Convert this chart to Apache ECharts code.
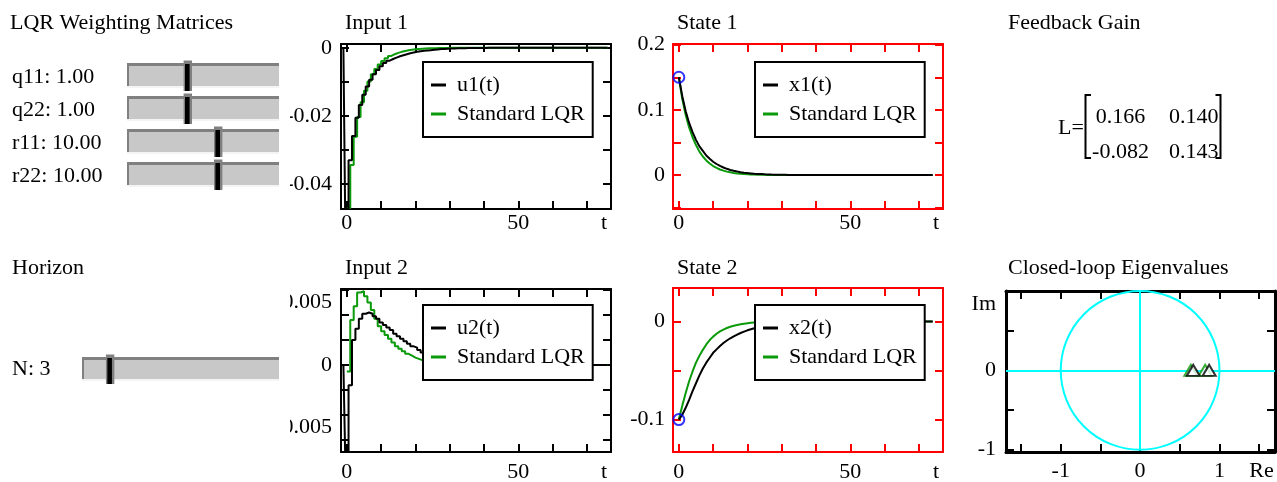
<!DOCTYPE html>
<html>
<head>
<meta charset="utf-8">
<title>LQR vs receding horizon</title>
<script src="https://cdn.jsdelivr.net/npm/echarts@6/dist/echarts.min.js"></script>
<style>
  html, body { margin: 0; padding: 0; background: #fff; }
  #wrap { position: relative; width: 1277px; height: 482px; overflow: hidden; background: #fff; }
  .pane { position: absolute; top: 0; height: 482px; overflow: hidden; }
</style>
</head>
<body>
<div id="wrap">
  <div class="pane" id="ctrl" style="left:0;width:290px"></div>
  <div class="pane" id="inputs" style="left:290px;width:330px"></div>
  <div class="pane" id="states" style="left:620px;width:340px"></div>
  <div class="pane" id="gain" style="left:960px;width:317px"></div>
</div>
<script>
// ---------------- data ----------------
// weighting matrices and horizon shown on the sliders
const weightNames = ['q11', 'q22', 'r11', 'r22'];
const weightValues = [1.00, 1.00, 10.00, 10.00];
const horizonN = 3;

// feedback gain matrix
const gainL = [[0.166, 0.140], [-0.082, 0.143]];

// input value held before the first sample
const uBefore = 0;

// input 1: receding horizon controller (u1) and standard LQR, samples k = 0..76
const u1 = [
  -0.0472, -0.0330, -0.0259, -0.0205, -0.0168, -0.0138, -0.0114, -0.0094, -0.0078, -0.0065,
  -0.0054, -0.0045, -0.0038, -0.0033, -0.0029, -0.0025, -0.0022, -0.0019, -0.0016, -0.0014,
  -0.0012, -0.0010, -0.0009, -0.0008, -0.0007, -0.0006, -0.0005, -0.0004, -0.00035, -0.0003,
  -0.00025, -0.0002, -0.00017, -0.00014, -0.00012, -0.0001, -0.00008, -0.00007, -0.00006, -0.00005,
  -0.00004, -0.00003, -0.00003, -0.00002, -0.00002, -0.00002, -0.00001, -0.00001, -0.00001, -0.00001,
  0, 0, 0, 0, 0, 0, 0, 0, 0, 0,
  0, 0, 0, 0, 0, 0, 0, 0, 0, 0,
  0, 0, 0, 0, 0, 0, 0
];
const u1Lqr = [
  -0.0470, -0.0344, -0.0261, -0.0203, -0.0160, -0.0126, -0.0099, -0.0078, -0.0062, -0.0049,
  -0.0039, -0.0031, -0.0024, -0.0019, -0.0015, -0.0012, -0.00095, -0.00075, -0.0006, -0.00047,
  -0.00037, -0.0003, -0.00023, -0.00018, -0.00014, -0.00011, -0.00009, -0.00007, -0.00005, -0.00004,
  -0.00003, -0.00002, -0.00002, -0.00001, -0.00001, 0, 0, 0, 0, 0,
  0, 0, 0, 0, 0, 0, 0, 0, 0, 0,
  0, 0, 0, 0, 0, 0, 0, 0, 0, 0,
  0, 0, 0, 0, 0, 0, 0, 0, 0, 0,
  0, 0, 0, 0, 0, 0, 0
];

// input 2
const u2 = [
  -0.0069, -0.0016, 0.0020, 0.0029, 0.0037, 0.0041, 0.0042, 0.0041, 0.0039, 0.0037,
  0.0034, 0.0032, 0.0030, 0.0028, 0.0025, 0.0023, 0.0021, 0.0019, 0.0017, 0.0015,
  0.0014, 0.0012, 0.0010, 0.0009, 0.0008, 0.0007, 0.0006, 0.00053, 0.00046, 0.0004,
  0.00035, 0.0003, 0.00026, 0.00023, 0.0002, 0.00017, 0.00015, 0.00013, 0.00011, 0.0001,
  0.00008, 0.00007, 0.00006, 0.00005, 0.00004, 0.00004, 0.00003, 0.00003, 0.00002, 0.00002,
  0.00002, 0.00001, 0.00001, 0.00001, 0, 0, 0, 0, 0, 0,
  0, 0, 0, 0, 0, 0, 0, 0, 0, 0,
  0, 0, 0, 0, 0, 0, 0
];
const u2Lqr = [
  -0.0005, 0.0036, 0.0047, 0.0058, 0.0059, 0.0055, 0.0050, 0.0044, 0.0037, 0.0031,
  0.0027, 0.0024, 0.0021, 0.0018, 0.0015, 0.0013, 0.0011, 0.0009, 0.00075, 0.0006,
  0.0005, 0.0004, 0.00032, 0.00026, 0.0002, 0.00016, 0.00013, 0.0001, 0.00008, 0.00006,
  0.00005, 0.00004, 0.00003, 0.00002, 0.00002, 0.00001, 0.00001, 0, 0, 0,
  0, 0, 0, 0, 0, 0, 0, 0, 0, 0,
  0, 0, 0, 0, 0, 0, 0, 0, 0, 0,
  0, 0, 0, 0, 0, 0, 0, 0, 0, 0,
  0, 0, 0, 0, 0, 0, 0
];

// state 1 and state 2, samples k = 0..74
const x1 = [
  0.150, 0.121, 0.098, 0.080, 0.066, 0.054, 0.044, 0.037, 0.030, 0.025,
  0.0205, 0.017, 0.014, 0.0116, 0.0096, 0.0079, 0.0066, 0.0054, 0.0045, 0.0037,
  0.0031, 0.0026, 0.0021, 0.0018, 0.0015, 0.0012, 0.0010, 0.0008, 0.0007, 0.0006,
  0.0005, 0.0004, 0.0003, 0.00025, 0.0002, 0.00017, 0.00014, 0.00012, 0.0001, 0.00008,
  0.00007, 0.00006, 0.00005, 0.00004, 0.00003, 0.00003, 0.00002, 0.00002, 0.00001, 0.00001,
  0, 0, 0, 0, 0, 0, 0, 0, 0, 0,
  0, 0, 0, 0, 0, 0, 0, 0, 0, 0,
  0, 0, 0, 0, 0
];
const x1Lqr = [
  0.150, 0.117, 0.092, 0.073, 0.058, 0.046, 0.036, 0.0285, 0.0225, 0.0177,
  0.0139, 0.011, 0.0086, 0.0068, 0.0053, 0.0042, 0.0033, 0.0026, 0.0020, 0.0016,
  0.0013, 0.0010, 0.0008, 0.0006, 0.0005, 0.0004, 0.0003, 0.00024, 0.00019, 0.00015,
  0.00012, 0.0001, 0.00008, 0.00006, 0.00005, 0.00004, 0.00003, 0.00002, 0.00002, 0.00001,
  0, 0, 0, 0, 0, 0, 0, 0, 0, 0,
  0, 0, 0, 0, 0, 0, 0, 0, 0, 0,
  0, 0, 0, 0, 0, 0, 0, 0, 0, 0,
  0, 0, 0, 0, 0
];
const x2 = [
  -0.100, -0.095, -0.088, -0.080, -0.071, -0.063, -0.055, -0.048, -0.042, -0.037,
  -0.032, -0.0285, -0.025, -0.022, -0.0195, -0.0172, -0.0152, -0.0134, -0.0118, -0.0104,
  -0.0091, -0.0080, -0.0070, -0.0061, -0.0053, -0.0046, -0.0040, -0.0035, -0.0030, -0.0026,
  -0.0023, -0.0020, -0.0017, -0.0015, -0.0013, -0.0011, -0.0010, -0.0008, -0.0007, -0.0006,
  -0.0005, -0.00044, -0.00038, -0.00033, -0.00028, -0.00024, -0.00021, -0.00018, -0.00015, -0.00013,
  -0.00011, -0.0001, -0.00008, -0.00007, -0.00006, -0.00005, -0.00004, -0.00004, -0.00003, -0.00003,
  -0.00002, -0.00002, -0.00002, -0.00001, -0.00001, -0.00001, 0, 0, 0, 0,
  0, 0, 0, 0, 0
];
const x2Lqr = [
  -0.100, -0.086, -0.073, -0.061, -0.051, -0.042, -0.035, -0.029, -0.0235, -0.019,
  -0.0155, -0.0126, -0.0102, -0.0083, -0.0067, -0.0054, -0.0044, -0.0036, -0.0029, -0.0023,
  -0.0019, -0.0015, -0.0012, -0.0010, -0.0008, -0.00065, -0.00052, -0.00042, -0.00034, -0.00027,
  -0.00022, -0.00018, -0.00014, -0.00011, -0.00009, -0.00007, -0.00006, -0.00005, -0.00004, -0.00003,
  -0.00002, -0.00002, -0.00001, -0.00001, 0, 0, 0, 0, 0, 0,
  0, 0, 0, 0, 0, 0, 0, 0, 0, 0,
  0, 0, 0, 0, 0, 0, 0, 0, 0, 0,
  0, 0, 0, 0, 0
];

// initial states (circled)
const x1Init = [0.15];
const x2Init = [-0.10];

// closed-loop eigenvalues (real, imaginary)
const eigRe = [0.67, 0.87];
const eigIm = [0, 0];
const eigLqrRe = [0.64, 0.82];
const eigLqrIm = [0, 0];
// unit circle: centre re, centre im, radius
const unitCircle = [[0, 0, 1]];

// axis ticks and tick labels
const tTicks = [0, 10, 20, 30, 40, 50, 60, 70];
const tLabels = [[0, '0'], [50, '50'], [75, 't']];
const u1Ticks = [-0.04, -0.03, -0.02, -0.01, 0];
const u1Labels = [[-0.04, '-0.04'], [-0.02, '-0.02'], [0, '0']];
const u2Ticks = [-0.006, -0.004, -0.002, 0, 0.002, 0.004, 0.006];
const u2Labels = [[-0.005, '-0.005'], [0, '0'], [0.005, '0.005']];
const x1Ticks = [-0.05, 0, 0.05, 0.1, 0.15, 0.2];
const x1Labels = [[0, '0'], [0.1, '0.1'], [0.2, '0.2']];
const x2Ticks = [-0.1, -0.05, 0];
const x2Labels = [[-0.1, '-0.1'], [0, '0']];
const reTicks = [-1.5, -1, -0.5, 0, 0.5, 1, 1.5];
const reLabels = [[-1, '-1'], [0, '0'], [1, '1'], [1.53, 'Re']];
const imTicks = [-1, -0.5, 0, 0.5, 1];
const imLabels = [[-1, '-1'], [0, '0'], [0.83, 'Im']];

// ---------------- styling helpers ----------------
const FONT = "'Liberation Serif', 'Times New Roman', Times, serif";
const FS = 22;
const BLACK = '#000000';
const GREEN = '#0a9a0a';
const RED = '#ff0000';
const CYAN = '#00ffff';
const BLUE = '#0000ff';

function txt(x, y, s, align) {
  return {
    type: 'text', x: x, y: y, silent: true,
    style: {
      text: s, fontFamily: FONT, fontSize: FS, fill: '#000',
      align: align || 'left', verticalAlign: 'middle',
      textAlign: align || 'left', textVerticalAlign: 'middle'
    }
  };
}

function labelFmt(pairs) {
  return function (v) {
    for (const p of pairs) if (Math.abs(p[0] - v) < 1e-9) return p[1];
    return '';
  };
}

// four framing axes (bottom, top, left, right) for one grid
function frameAxes(gi, xr, yr, cfg) {
  const line = { show: true, onZero: false, lineStyle: { color: cfg.color, width: cfg.width } };
  const tick = vals => ({ show: true, inside: true, length: 8, customValues: vals,
    lineStyle: { color: cfg.color, width: 2 } });
  const lab = (pairs, margin) => ({ show: true, customValues: pairs.map(p => p[0]),
    formatter: labelFmt(pairs), margin: margin, color: '#000', fontFamily: FONT, fontSize: FS,
    hideOverlap: false });
  const common = { type: 'value', gridIndex: gi, splitLine: { show: false }, silent: true };
  return {
    x: [
      Object.assign({}, common, { position: 'bottom', min: xr[0], max: xr[1], axisLine: line,
        axisTick: tick(cfg.xTicks), axisLabel: lab(cfg.xLabels, cfg.xMargin) }),
      Object.assign({}, common, { position: 'top', min: xr[0], max: xr[1], axisLine: line,
        axisTick: tick(cfg.xTicks), axisLabel: { show: false } })
    ],
    y: [
      Object.assign({}, common, { position: 'left', min: yr[0], max: yr[1], axisLine: line,
        axisTick: tick(cfg.yTicks), axisLabel: lab(cfg.yLabels, cfg.yMargin) }),
      Object.assign({}, common, { position: 'right', min: yr[0], max: yr[1], axisLine: line,
        axisTick: tick(cfg.yTicks), axisLabel: { show: false } })
    ]
  };
}

// grid placed exactly where given, labels may run outside it
function plotGrid(left, top, width, height) {
  return { left: left, top: top, width: width, height: height,
    containLabel: false, outerBoundsMode: 'none' };
}

function legendBox(left, top, names) {
  return {
    left: left, top: top, orient: 'vertical', data: names, selectedMode: false,
    backgroundColor: '#fff', borderColor: '#000', borderWidth: 2, borderRadius: 0,
    padding: [12, 8, 12, 8], itemGap: 7, itemWidth: 15, itemHeight: 3, icon: 'rect',
    textStyle: { fontFamily: FONT, fontSize: FS, color: '#000', padding: [0, 0, 0, 6] }
  };
}

function stepLine(name, data, color, step, xi, yi) {
  return {
    name: name, type: 'line', xAxisIndex: xi, yAxisIndex: yi, step: step,
    data: data, symbol: 'none', showSymbol: false, color: color, clip: true,
    lineStyle: { color: color, width: 2 }, emphasis: { disabled: true }, silent: true
  };
}

const pairs = arr => arr.map((v, k) => [k, v]);

// ---------------- sliders panel ----------------
function slider(x0, x1, top, h, frac) {
  const cx = x0 + frac * (x1 - x0);
  return [
    { type: 'rect', shape: { x: x0, y: top + h, width: x1 - x0, height: 2 }, style: { fill: '#f4f4f4' } },
    { type: 'rect', shape: { x: x0, y: top, width: x1 - x0, height: h }, style: { fill: '#c8c8c8' } },
    { type: 'rect', shape: { x: x0, y: top, width: x1 - x0, height: 3 }, style: { fill: '#808080' } },
    { type: 'rect', shape: { x: x0, y: top, width: 2, height: h }, style: { fill: '#808080' } },
    { type: 'rect', shape: { x: cx - 4.2, y: top - 2.5, width: 8.4, height: h + 7.5 }, style: { fill: '#808080' } },
    { type: 'rect', shape: { x: cx - 2.8, y: top + 1, width: 4.6, height: h + 4 }, style: { fill: '#000' } }
  ];
}

const ctrlGraphic = [txt(10, 23, 'LQR Weighting Matrices')];
weightNames.forEach((nm, i) => {
  const top = 63 + 33 * i;
  const frac = (Math.log10(weightValues[i]) + 2) / 5;   // log slider, 1e-2 .. 1e3
  ctrlGraphic.push(...slider(127, 279, top, 23, frac));
  ctrlGraphic.push(txt(12, top + 14, nm + ': ' + weightValues[i].toFixed(2)));
});
ctrlGraphic.push(txt(12, 268, 'Horizon'));
ctrlGraphic.push(...slider(82, 279, 357, 22, (horizonN - 1) / 14));   // N from 1 to 15
ctrlGraphic.push(txt(12, 369, 'N: ' + horizonN));

echarts.init(document.getElementById('ctrl')).setOption({
  animation: false,
  graphic: ctrlGraphic
});

// ---------------- inputs panel ----------------
const tRange = [-1.7, 77];
const inA = frameAxes(0, tRange, [-0.0473, 0.0011], { color: BLACK, width: 2,
  xTicks: tTicks, xLabels: tLabels, xMargin: 3, yTicks: u1Ticks, yLabels: u1Labels, yMargin: 9 });
const inB = frameAxes(1, tRange, [-0.00694, 0.00608], { color: BLACK, width: 2,
  xTicks: tTicks, xLabels: tLabels, xMargin: 9, yTicks: u2Ticks, yLabels: u2Labels, yMargin: 9 });

echarts.init(document.getElementById('inputs')).setOption({
  animation: false,
  grid: [plotGrid(51, 44, 270, 165), plotGrid(51, 289, 270, 163)],
  xAxis: inA.x.concat(inB.x),
  yAxis: inA.y.concat(inB.y),
  legend: [legendBox(133, 62, ['u1(t)', 'Standard LQR']), legendBox(133, 305, ['u2(t)', 'Standard LQR'])],
  graphic: [txt(55, 23, 'Input 1'), txt(55, 268, 'Input 2')],
  series: [
    stepLine('Standard LQR', pairs(u1Lqr), GREEN, 'end', 0, 0),
    stepLine('u1(t)', [[-1, uBefore]].concat(pairs(u1)), BLACK, 'middle', 0, 0),
    stepLine('Standard LQR', pairs(u2Lqr), GREEN, 'end', 2, 2),
    stepLine('u2(t)', [[-1, uBefore]].concat(pairs(u2)), BLACK, 'middle', 2, 2)
  ]
});

// ---------------- states panel ----------------
const stA = frameAxes(0, tRange, [-0.052, 0.201], { color: RED, width: 2,
  xTicks: tTicks, xLabels: tLabels, xMargin: 3, yTicks: x1Ticks, yLabels: x1Labels, yMargin: 8 });
const stB = frameAxes(1, tRange, [-0.133, 0.034], { color: RED, width: 2,
  xTicks: tTicks, xLabels: tLabels, xMargin: 9, yTicks: x2Ticks, yLabels: x2Labels, yMargin: 8 });

function initMarker(data, xi, yi) {
  return {
    type: 'scatter', xAxisIndex: xi, yAxisIndex: yi, data: data.map(v => [0, v]),
    symbol: 'circle', symbolSize: 11, z: 5, silent: true,
    itemStyle: { color: 'rgba(0,0,0,0)', borderColor: BLUE, borderWidth: 2 }
  };
}

echarts.init(document.getElementById('states')).setOption({
  animation: false,
  grid: [plotGrid(53, 44, 270, 165), plotGrid(53, 288, 270, 164)],
  xAxis: stA.x.concat(stB.x),
  yAxis: stA.y.concat(stB.y),
  legend: [legendBox(135, 62, ['x1(t)', 'Standard LQR']), legendBox(135, 305, ['x2(t)', 'Standard LQR'])],
  graphic: [txt(57, 23, 'State 1'), txt(57, 268, 'State 2')],
  series: [
    stepLine('Standard LQR', pairs(x1Lqr), GREEN, false, 0, 0),
    stepLine('x1(t)', pairs(x1), BLACK, false, 0, 0),
    initMarker(x1Init, 0, 0),
    stepLine('Standard LQR', pairs(x2Lqr), GREEN, false, 2, 2),
    stepLine('x2(t)', pairs(x2), BLACK, false, 2, 2),
    initMarker(x2Init, 2, 2)
  ]
});

// ---------------- feedback gain and eigenvalues ----------------
const eg = frameAxes(0, [-1.69, 1.70], [-1.03, 1.0], { color: BLACK, width: 3,
  xTicks: reTicks, xLabels: reLabels, xMargin: 8, yTicks: imTicks, yLabels: imLabels, yMargin: 10 });

const gainGraphic = [
  txt(48, 23, 'Feedback Gain'),
  txt(98, 128, 'L='),
  { type: 'polyline', silent: true, shape: { points: [[131, 95], [125.5, 95], [125.5, 158], [131, 158]] },
    style: { stroke: '#000', lineWidth: 2, fill: null } },
  { type: 'polyline', silent: true, shape: { points: [[255.5, 95], [260.5, 95], [260.5, 158], [255.5, 158]] },
    style: { stroke: '#000', lineWidth: 2, fill: null } },
  txt(48, 268, 'Closed-loop Eigenvalues')
];
const colX = [160.5, 233.7];
const rowY = [117, 152];
gainL.forEach((row, i) => row.forEach((v, j) => {
  gainGraphic.push(txt(colX[j], rowY[i], v.toFixed(3), 'center'));
}));

function eigMarkers(re, im, color) {
  return {
    type: 'scatter', data: re.map((r, k) => [r, im[k]]), symbol: 'triangle',
    symbolSize: [13, 11], silent: true, z: 6,
    itemStyle: { color: '#fff', borderColor: color, borderWidth: 2 }
  };
}

echarts.init(document.getElementById('gain')).setOption({
  animation: false,
  grid: [plotGrid(46, 291, 269, 161)],
  xAxis: eg.x,
  yAxis: eg.y,
  graphic: gainGraphic,
  series: [
    {
      type: 'custom', data: unitCircle, silent: true, z: 3,
      renderItem: function (params, api) {
        const c = api.coord([api.value(0), api.value(1)]);
        const r = api.size([api.value(2), 0])[0];
        return { type: 'circle', shape: { cx: c[0], cy: c[1], r: r },
          style: { fill: null, stroke: CYAN, lineWidth: 2 } };
      },
      markLine: {
        silent: true, symbol: 'none', label: { show: false },
        lineStyle: { color: CYAN, width: 2, type: 'solid' },
        data: [{ yAxis: 0 }, [{ coord: [0, -1] }, { coord: [0, 1] }]]
      }
    },
    eigMarkers(eigLqrRe, eigLqrIm, GREEN),
    eigMarkers(eigRe, eigIm, BLACK)
  ]
});
</script>
</body>
</html>
